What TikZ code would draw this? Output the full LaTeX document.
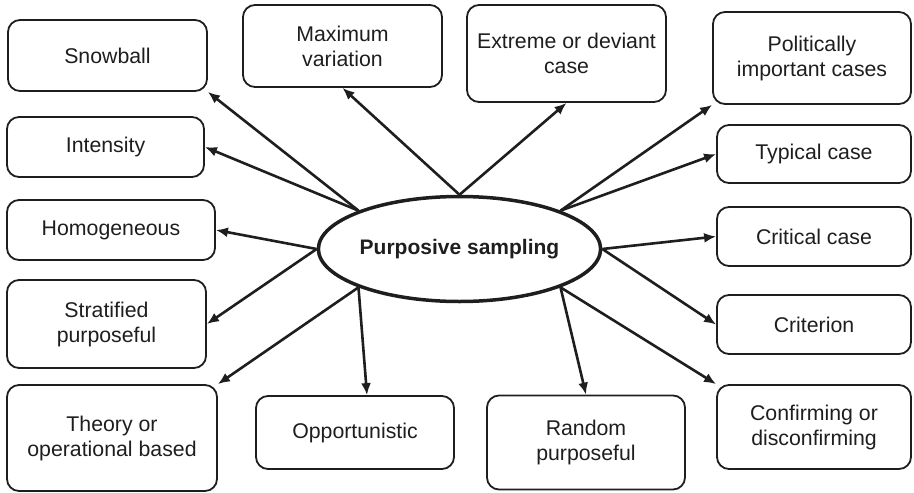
\documentclass[tikz,border=0pt]{standalone}
\usepackage{fontspec}
\setmainfont{Liberation Sans}
\usetikzlibrary{arrows.meta,shapes.geometric}
\definecolor{ink}{HTML}{1E1E1E}

\begin{document}
\begin{tikzpicture}[
  x=1pt, y=-1pt,
  font=\fontsize{21.3}{25}\selectfont,
  box/.style={
    draw=ink,
    text=ink,
    line width=1.8pt,
    rounded corners=12pt,
    align=center,
    inner sep=0pt
  },
  hub/.style={
    draw=ink,
    text=ink,
    ellipse,
    line width=3.5pt,
    inner sep=0pt,
    minimum width=282pt,
    minimum height=105pt,
    font=\fontsize{21}{25}\selectfont\bfseries
  },
  flow/.style={-{Latex[length=12pt,width=10pt]}, line width=2.6pt, draw=ink}
]
\useasboundingbox (0,0) rectangle (914,493);

% centre
\node[hub] (ps) at (459.5,249) {Purposive sampling};

% left column
\node[box, minimum width=199pt, minimum height=71pt] (snow) at (107.5,55.5) {Snowball};
\node[box, minimum width=197pt, minimum height=60pt] (intens) at (105.5,147) {Intensity};
\node[box, minimum width=208pt, minimum height=60pt] (homog) at (111,230) {Homogeneous};
\node[box, minimum width=199pt, minimum height=88pt] (strat) at (106.5,324) {Stratified\\purposeful};
\node[box, minimum width=210pt, minimum height=106pt] (theory) at (112,438) {Theory or\\operational based};

% top row
\node[box, minimum width=199pt, minimum height=82pt] (maxvar) at (342.5,46) {Maximum\\variation};
\node[box, minimum width=199pt, minimum height=97pt] (extreme) at (566.5,53.5) {Extreme or deviant\\case};

% right column
\node[box, minimum width=198pt, minimum height=92pt] (polit) at (812,58) {Politically\\important cases};
\node[box, minimum width=194pt, minimum height=58pt] (typical) at (814,154) {Typical case};
\node[box, minimum width=194pt, minimum height=59pt] (critical) at (814,236.5) {Critical case};
\node[box, minimum width=194pt, minimum height=59pt] (criterion) at (814,324.5) {Criterion};
\node[box, minimum width=194pt, minimum height=84pt] (confirm) at (814,427) {Confirming or\\disconfirming};

% bottom row
\node[box, minimum width=198pt, minimum height=73pt] (oppor) at (355,432.5) {Opportunistic};
\node[box, minimum width=198pt, minimum height=94pt] (random) at (586,442.5) {Random\\purposeful};

% arrows out of the hub
\draw[flow] (ps.north west) -- (snow.south east);
\draw[flow] (ps.north west) -- (intens.east);
\draw[flow] (ps.north) -- (maxvar.south);
\draw[flow] (ps.north) -- (extreme.south);
\draw[flow] (ps.north east) -- (polit.south west);
\draw[flow] (ps.north east) -- (typical.west);
\draw[flow] (ps.east) -- (critical.west);
\draw[flow] (ps.east) -- (criterion.west);
\draw[flow] (ps.south east) -- (confirm.north west);
\draw[flow] (ps.south east) -- (random.north);
\draw[flow] (ps.south west) -- ([xshift=12pt]oppor.north);
\draw[flow] (ps.south west) -- (theory.north east);
\draw[flow] (ps.west) -- (homog.east);
\draw[flow] (ps.west) -- (strat.east);

\end{tikzpicture}
\end{document}
